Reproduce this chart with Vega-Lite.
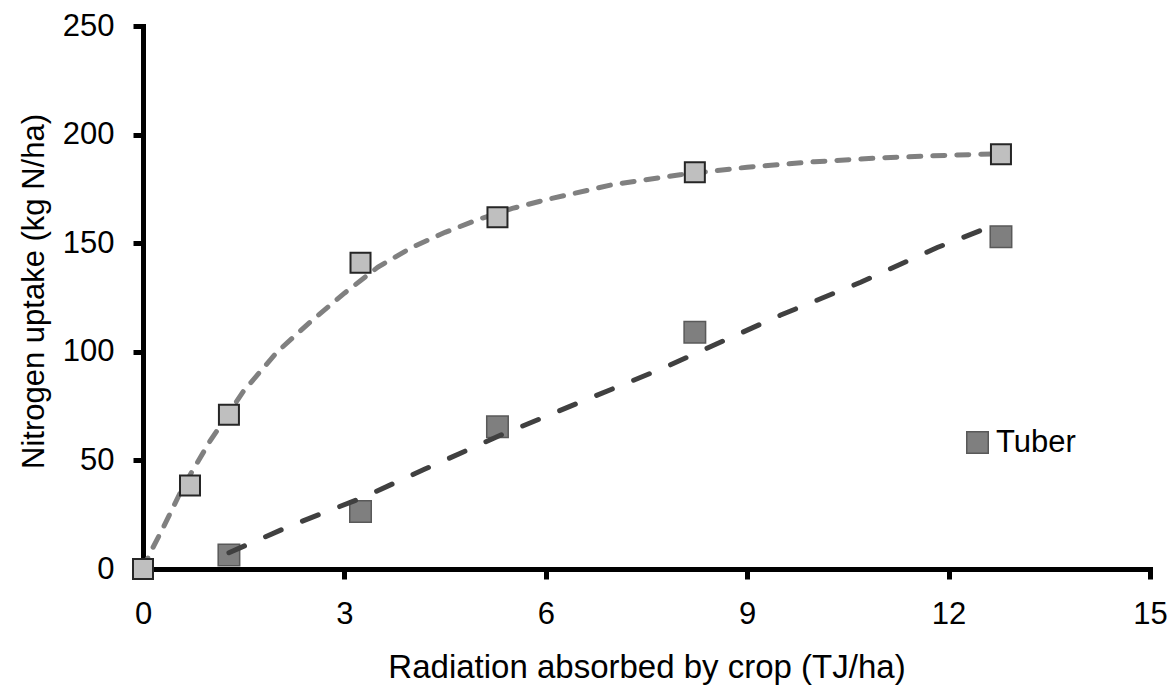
{
  "$schema": "https://vega.github.io/schema/vega-lite/v6.json",
  "autosize": "none",
  "width": 1007,
  "height": 543,
  "padding": {"left": 143, "top": 26, "right": 25, "bottom": 117},
  "background": "white",
  "config": {
    "view": {"stroke": null},
    "axis": {
      "grid": false,
      "domainColor": "black",
      "domainWidth": 5,
      "domainCap": "square",
      "tickColor": "black",
      "tickWidth": 5,
      "tickSize": 10,
      "labelFont": "Liberation Sans",
      "labelFontSize": 31,
      "labelColor": "black",
      "labelFlush": false,
      "titleFont": "Liberation Sans",
      "titleFontWeight": "normal",
      "titleColor": "black"
    }
  },
  "datasets": {
    "pts": [
      {"x": 0, "y": 0, "series": "Total"},
      {"x": 0.7, "y": 38.5, "series": "Total"},
      {"x": 1.28, "y": 71, "series": "Total"},
      {"x": 3.24, "y": 141, "series": "Total"},
      {"x": 5.28, "y": 162, "series": "Total"},
      {"x": 8.22, "y": 182.7, "series": "Total"},
      {"x": 12.78, "y": 191, "series": "Total"},
      {"x": 1.28, "y": 6.4, "series": "Tuber"},
      {"x": 3.24, "y": 26.5, "series": "Tuber"},
      {"x": 5.28, "y": 65.5, "series": "Tuber"},
      {"x": 8.22, "y": 109, "series": "Tuber"},
      {"x": 12.78, "y": 153, "series": "Tuber"}
    ],
    "curves": [
      {"x": 0, "y": 0, "series": "Total"},
      {"x": 0.1, "y": 7, "series": "Total"},
      {"x": 0.3, "y": 19, "series": "Total"},
      {"x": 0.6, "y": 38, "series": "Total"},
      {"x": 1.0, "y": 59, "series": "Total"},
      {"x": 1.5, "y": 82, "series": "Total"},
      {"x": 2.0, "y": 100, "series": "Total"},
      {"x": 2.5, "y": 114, "series": "Total"},
      {"x": 3.0, "y": 127, "series": "Total"},
      {"x": 3.5, "y": 139, "series": "Total"},
      {"x": 4.0, "y": 148, "series": "Total"},
      {"x": 4.5, "y": 155, "series": "Total"},
      {"x": 5.0, "y": 161, "series": "Total"},
      {"x": 5.5, "y": 166, "series": "Total"},
      {"x": 6.0, "y": 170, "series": "Total"},
      {"x": 7.0, "y": 177, "series": "Total"},
      {"x": 8.0, "y": 181.5, "series": "Total"},
      {"x": 9.0, "y": 185, "series": "Total"},
      {"x": 10.0, "y": 187.5, "series": "Total"},
      {"x": 11.0, "y": 189.3, "series": "Total"},
      {"x": 12.0, "y": 190.5, "series": "Total"},
      {"x": 12.78, "y": 191.2, "series": "Total"},
      {"x": 1.28, "y": 7.5, "series": "Tuber"},
      {"x": 2.19, "y": 19.8, "series": "Tuber"},
      {"x": 3.28, "y": 33, "series": "Tuber"},
      {"x": 4.2, "y": 46, "series": "Tuber"},
      {"x": 5.34, "y": 61.8, "series": "Tuber"},
      {"x": 6.66, "y": 78.7, "series": "Tuber"},
      {"x": 7.75, "y": 92.5, "series": "Tuber"},
      {"x": 8.25, "y": 99.5, "series": "Tuber"},
      {"x": 9.49, "y": 116.8, "series": "Tuber"},
      {"x": 10.69, "y": 132, "series": "Tuber"},
      {"x": 11.83, "y": 148, "series": "Tuber"},
      {"x": 12.57, "y": 157, "series": "Tuber"}
    ]
  },
  "encoding": {
    "x": {
      "field": "x", "type": "quantitative",
      "scale": {"domain": [0, 15], "nice": false, "zero": false},
      "axis": {
        "values": [0, 3, 6, 9, 12, 15],
        "labelPadding": 20,
        "title": "Radiation absorbed by crop (TJ/ha)",
        "titleFontSize": 33,
        "titleBaseline": "alphabetic",
        "titleY": 108
      }
    },
    "y": {
      "field": "y", "type": "quantitative",
      "scale": {"domain": [0, 250], "nice": false, "zero": false},
      "axis": {
        "values": [0, 50, 100, 150, 200, 250],
        "labelPadding": 19,
        "title": "Nitrogen uptake (kg N/ha)",
        "titleFontSize": 31,
        "titleBaseline": "alphabetic",
        "titleX": -100,
        "titleY": 265
      }
    }
  },
  "layer": [
    {
      "data": {"name": "curves"},
      "transform": [{"filter": "datum.series === 'Total'"}],
      "mark": {"type": "line", "color": "#808080", "strokeWidth": 5, "strokeDash": [12, 12], "strokeCap": "round", "clip": false}
    },
    {
      "data": {"name": "pts"},
      "transform": [{"filter": "datum.series === 'Total'"}],
      "mark": {"type": "square", "filled": true, "size": 400, "fill": "#bfbfbf", "stroke": "#262626", "strokeWidth": 2, "opacity": 1, "clip": false}
    },
    {
      "data": {"name": "pts"},
      "transform": [{"filter": "datum.series === 'Tuber'"}],
      "mark": {"type": "square", "filled": true, "size": 462, "stroke": "#595959", "strokeWidth": 1.5, "opacity": 1, "clip": false},
      "encoding": {
        "fill": {
          "field": "series", "type": "nominal",
          "scale": {"domain": ["Tuber"], "range": ["#7f7f7f"]},
          "legend": {
            "title": null,
            "orient": "none",
            "legendX": 819,
            "legendY": 401,
            "padding": 0,
            "symbolType": "square",
            "symbolSize": 462,
            "symbolStrokeColor": "#595959",
            "symbolStrokeWidth": 1.5,
            "symbolOpacity": 1,
            "labelFont": "Liberation Sans",
            "labelFontSize": 31,
            "labelColor": "black",
            "labelOffset": 3
          }
        }
      }
    },
    {
      "data": {"name": "curves"},
      "transform": [{"filter": "datum.series === 'Tuber'"}],
      "mark": {"type": "line", "color": "#404040", "strokeWidth": 5, "strokeDash": [17, 23], "strokeCap": "round", "clip": false}
    }
  ]
}
